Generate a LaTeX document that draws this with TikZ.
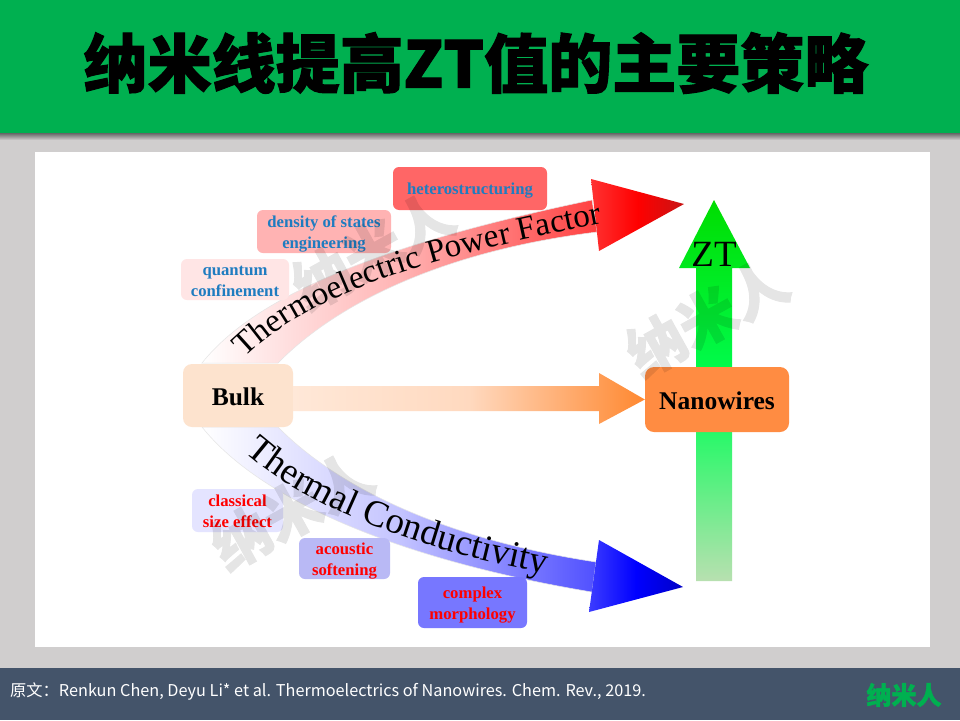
\documentclass[tikz,border=0pt]{standalone}
\usepackage{fontspec}
\usepackage{xcolor}
\usetikzlibrary{calc}
\usetikzlibrary{decorations.text}
\setmainfont{Liberation Serif}
\newfontfamily\cjk{Noto Sans CJK SC}
\newfontfamily\cjkheavy[BoldFeatures={FakeBold=1.6}]{Noto Sans CJK SC}
\definecolor{titlegreen}{HTML}{00B050}
\definecolor{slidegray}{HTML}{D0CECE}
\definecolor{footblue}{HTML}{44546A}
\definecolor{labelblue}{HTML}{1F7CC0}

\begin{document}
\begin{tikzpicture}[x=1pt,y=-1pt,
        box/.style={rounded corners=6pt,inner sep=0pt,align=center,font=\fontsize{16.7}{21}\selectfont\bfseries,
            text height=#1,text depth=0pt},
        upperbox/.style={box=#1,text=labelblue},
        upperbox/.default=33pt,
        lowerbox/.style={box=33pt,text=red},
        mainbox/.style={rounded corners=9pt,inner sep=0pt,font=\fontsize{25.5}{30}\selectfont\bfseries,
            execute at begin node={\rule{0pt}{21pt}}},
        watermark/.style={rotate=29,font=\cjkheavy\bfseries\fontsize{58}{58}\selectfont}]
            % Hintergrund
            \useasboundingbox (0,0) rectangle (960,720);
            \fill[slidegray] (0,0) rectangle (960,720);
            \shade[top color=black!60,bottom color=slidegray] (0,133) rectangle (960,140);
            \fill[titlegreen] (0,0) rectangle (960,133);
            \fill[white] (35,152) rectangle (930,647);
            \fill[footblue] (0,668) rectangle (960,720);

            % Titel und Fusszeile
            \node[inner sep=0pt,font=\cjkheavy\bfseries\fontsize{64}{64}\selectfont] (title) at (476,63) {纳米线提高ZT值的主要策略};
            \node[anchor=west,inner sep=0pt,text=white,font=\cjk\fontsize{16.25}{16}\selectfont] (source) at (10,692)
                {原文：Renkun Chen, Deyu Li* et al. Thermoelectrics of Nanowires. Chem. Rev., 2019.};
            \node[inner sep=0pt,text=titlegreen,font=\cjkheavy\bfseries\fontsize{25}{25}\selectfont] (logo) at (904,695) {纳米人};

            % Gruener Pfeil
            \shade[bottom color={rgb,255:red,184;green,224;blue,176},top color={rgb,255:red,0;green,221;blue,0},middle color={rgb,255:red,0;green,255;blue,85}]
                (696,581) -- (696,268) -- (679,268) -- (714,200) -- (750,268) -- (732,268) -- (732,581) -- cycle;

            % Roter Pfeil
            \shadedraw[draw=black!10,line width=.5pt,left color=white,right color={rgb,255:red,255;green,64;blue,64},middle color={rgb,255:red,255;green,180;blue,180}]
                (202,363) .. controls (260,290) and (400,240) .. (592,200)
                -- (597,232) .. controls (450,250) and (340,300) .. (278,363) -- cycle;
            \shade[left color={rgb,255:red,255;green,50;blue,50},right color={rgb,255:red,200;green,20;blue,20},middle color=red]
                (591,179) -- (684,204) -- (599,251) -- cycle;

            % Blauer Pfeil
            \shadedraw[draw=black!10,line width=.5pt,left color=white,right color={rgb,255:red,80;green,80;blue,255},middle color={rgb,255:red,196;green,196;blue,255}]
                (202,427) .. controls (260,500) and (400,560) .. (592,592)
                -- (596,562) .. controls (450,540) and (340,490) .. (278,427) -- cycle;
            \shade[left color={rgb,255:red,60;green,60;blue,255},right color={rgb,255:red,0;green,0;blue,200},middle color=blue]
                (599,540) -- (683,587) -- (589,612) -- cycle;

            % Kaesten
            \node[upperbox=11pt,fill={rgb,255:red,255;green,102;blue,102},minimum width=154pt,minimum height=43pt] (hetero) at (470,188.5) {heterostructuring};
            \node[upperbox,fill={rgb,255:red,255;green,179;blue,179},minimum width=134pt,minimum height=43pt] (dos) at (324,231.5) {density of states\\engineering};
            \node[upperbox,fill={rgb,255:red,255;green,229;blue,229},minimum width=108pt,minimum height=41pt] (quantum) at (235,279.5) {quantum\\confinement};
            \node[lowerbox,fill={rgb,255:red,228;green,228;blue,255},minimum width=91pt,minimum height=43pt] (classical) at (237.5,510.5) {classical\\size effect};
            \node[lowerbox,fill={rgb,255:red,185;green,185;blue,245},minimum width=91pt,minimum height=41pt] (acoustic) at (344.5,558.5) {acoustic\\softening};
            \node[lowerbox,fill={rgb,255:red,119;green,119;blue,255},minimum width=109pt,minimum height=51pt] (complex) at (472.5,602.5) {complex\\morphology};
            \node[mainbox,fill={rgb,255:red,253;green,227;blue,206},minimum width=110pt,minimum height=63pt] (bulk) at (238,395.5) {Bulk};
            \node[mainbox,fill={rgb,255:red,255;green,140;blue,66},minimum width=144pt,minimum height=65pt] (nanowires) at (717,399.5) {Nanowires};

            % Oranger Pfeil
            \shade[left color={rgb,255:red,255;green,232;blue,216},right color={rgb,255:red,255;green,136;blue,48},middle color={rgb,255:red,255;green,217;blue,191}]
                ($(bulk.east)+(0,-9.5)$) -- (599,386) -- (599,373) -- (nanowires.west) -- (599,424) -- (599,411) -- ($(bulk.east)+(0,15.5)$) -- cycle;

            % Beschriftung
            \node[inner sep=0pt,font=\fontsize{37}{37}\selectfont] (zt) at (714,254) {ZT};
            \path[decorate,decoration={text along path,text format delimiters={|}{|},
                    text={|\fontsize{33}{33}\selectfont|Thermoelectric Power Factor}}]
                (245,358) .. controls (312,292) and (430,257) .. (600,224);
            \path[decorate,decoration={text along path,text format delimiters={|}{|},
                    text={|\fontsize{37}{37}\selectfont|Thermal Conductivity}}]
                (245,452) .. controls (310,510) and (420,550) .. (548,574);

            % Wasserzeichen
            \begin{scope}[transparency group,opacity=.1]
                \foreach \x/\y/\n in {373/250/marka,707/317/markb,292/510/markc} {
                    \node[watermark] (\n) at (\x,\y) {纳米人};
                }
            \end{scope}
        \end{tikzpicture}
\end{document}
